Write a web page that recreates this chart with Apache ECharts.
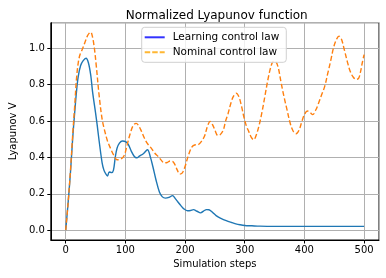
<!DOCTYPE html>
<html>
<head>
<meta charset="utf-8">
<script src="https://cdn.jsdelivr.net/npm/echarts@6/dist/echarts.min.js"></script>
<style>html,body{margin:0;padding:0;background:#fff}#c{width:386px;height:278px}</style>
</head>
<body>
<div id="c"></div>
<script>
const title = "Normalized Lyapunov function";
const xName = "Simulation steps";
const yName = "Lyapunov V";
const seriesNames = ["Learning control law", "Nominal control law"];

const learnSteps = [0,4,8,12,15,18,21,25,29,34,38,42,45,50,53,56,61,64,67,70,73,77,80,83,86,90,95,101,105,110,115,119,124,130,137,142,146,151,157,162,167,173,179,184,188,193,198,204,209,214,220,226,231,236,240,246,252,260,269,278,285,292,300,312,325,350,400,450,500];
const learnV = [0.0,0.15,0.32,0.52,0.645,0.76,0.845,0.905,0.93,0.945,0.92,0.85,0.76,0.645,0.57,0.49,0.37,0.33,0.31,0.298,0.32,0.316,0.33,0.40,0.45,0.478,0.49,0.485,0.47,0.433,0.405,0.398,0.408,0.42,0.442,0.40,0.35,0.28,0.21,0.183,0.176,0.18,0.19,0.172,0.155,0.135,0.117,0.107,0.108,0.113,0.104,0.095,0.105,0.113,0.112,0.098,0.08,0.065,0.052,0.042,0.035,0.03,0.026,0.024,0.022,0.021,0.021,0.021,0.021];

const nomSteps = [0,4,8,12,15,18,21,24,28,32,36,40,42,45,48,51,56,61,65,70,75,80,86,92,98,103,108,113,118,122,127,132,137,143,149,155,160,165,170,175,179,183,187,191,195,200,205,211,216,222,228,233,237,242,246,250,255,259,264,268,272,277,281,286,290,294,298,302,307,311,315,319,324,329,334,339,344,348,352,356,361,366,371,376,381,386,391,396,400,405,410,414,419,424,429,434,439,444,449,454,458,462,467,472,477,482,487,491,494,497,500];
const nomV = [0.0,0.15,0.33,0.54,0.68,0.83,0.92,0.965,0.995,1.03,1.065,1.085,1.088,1.06,1.0,0.91,0.74,0.61,0.55,0.49,0.45,0.415,0.387,0.39,0.41,0.47,0.53,0.575,0.587,0.575,0.543,0.505,0.475,0.452,0.424,0.405,0.385,0.37,0.372,0.38,0.378,0.36,0.33,0.308,0.313,0.35,0.405,0.455,0.468,0.47,0.49,0.52,0.565,0.598,0.58,0.55,0.52,0.525,0.55,0.6,0.64,0.70,0.735,0.752,0.735,0.69,0.63,0.58,0.54,0.51,0.497,0.52,0.575,0.65,0.74,0.83,0.9,0.927,0.925,0.895,0.81,0.73,0.66,0.59,0.545,0.53,0.55,0.6,0.635,0.655,0.645,0.635,0.66,0.7,0.745,0.79,0.86,0.93,1.005,1.05,1.066,1.05,0.99,0.925,0.87,0.84,0.828,0.835,0.87,0.92,0.965];

const font = "DejaVu Sans";
const solidIcon = 'path://M0,0H20V2H0Z';
const dashIcon = 'path://M0,0H5.5V2H0Z M7.5,0H13V2H7.5Z M15,0H20V2H15Z';
const chart = echarts.init(document.getElementById('c'), null, {renderer: 'canvas'});
chart.setOption({
  animation: false,
  backgroundColor: '#fff',
  textStyle: {fontFamily: font},
  title: {
    text: title, left: 211.7, top: 5, textAlign: 'center',
    textStyle: {fontFamily: font, fontSize: 12, fontWeight: 'normal', color: '#000'}
  },
  legend: {
    orient: 'vertical', left: 141.7, top: 27.3,
    padding: [4, 7, 4, 3],
    itemWidth: 20, itemHeight: 2, itemGap: 3,
    backgroundColor: 'rgba(255,255,255,0.8)',
    borderColor: '#d0d0d0', borderWidth: 1, borderRadius: 3,
    textStyle: {fontFamily: font, fontSize: 10.5, color: '#000', padding: [0,0,0,3], lineHeight: 12},
    data: [
      {name: seriesNames[0], icon: solidIcon, itemStyle: {color: '#3333ff', borderWidth: 0}},
      {name: seriesNames[1], icon: dashIcon, itemStyle: {color: '#ffb733', borderWidth: 0}}
    ]
  },
  grid: {
    left: 44.3, right: 7, top: 22.7, bottom: 38,
    show: true, borderColor: '#000', borderWidth: 1, backgroundColor: 'transparent'
  },
  xAxis: {
    type: 'value', min: -25, max: 525, splitNumber: 5,
    name: xName, nameLocation: 'middle', nameGap: 14,
    nameTextStyle: {fontFamily: font, fontSize: 10, color: '#000'},
    axisLine: {show: true, onZero: false, lineStyle: {color: '#000', width: 1}},
    axisTick: {show: true, length: 3.5, lineStyle: {color: '#000'}},
    axisLabel: {showMinLabel: false, showMaxLabel: false, margin: 5, fontFamily: font, fontSize: 10, color: '#000'},
    splitLine: {show: true, lineStyle: {color: '#b0b0b0', width: 1}}
  },
  yAxis: {
    type: 'value', min: -0.054, max: 1.14, splitNumber: 6,
    name: yName, nameLocation: 'middle', nameGap: 29,
    nameTextStyle: {fontFamily: font, fontSize: 10, color: '#000'},
    axisLine: {show: true, onZero: false, lineStyle: {color: '#000', width: 1}},
    axisTick: {show: true, length: 3.5, lineStyle: {color: '#000'}},
    axisLabel: {showMinLabel: false, showMaxLabel: false, margin: 6, fontFamily: font, fontSize: 10, color: '#000',
      formatter: v => v.toFixed(1)},
    splitLine: {show: true, lineStyle: {color: '#b0b0b0', width: 1}}
  },
  series: [
    {
      name: seriesNames[0], type: 'line', symbol: 'none', smooth: 0.35,
      data: learnSteps.map((s, i) => [s, learnV[i]]),
      lineStyle: {color: '#1f77b4', width: 1.4},
      itemStyle: {color: '#1f77b4'}, z: 2
    },
    {
      name: seriesNames[1], type: 'line', symbol: 'none', smooth: 0.35,
      data: nomSteps.map((s, i) => [s, nomV[i]]),
      lineStyle: {color: '#ff7f0e', width: 1.4, type: [5, 2.5]},
      itemStyle: {color: '#ff7f0e'}, z: 3
    }
  ]
});
</script>
</body>
</html>
